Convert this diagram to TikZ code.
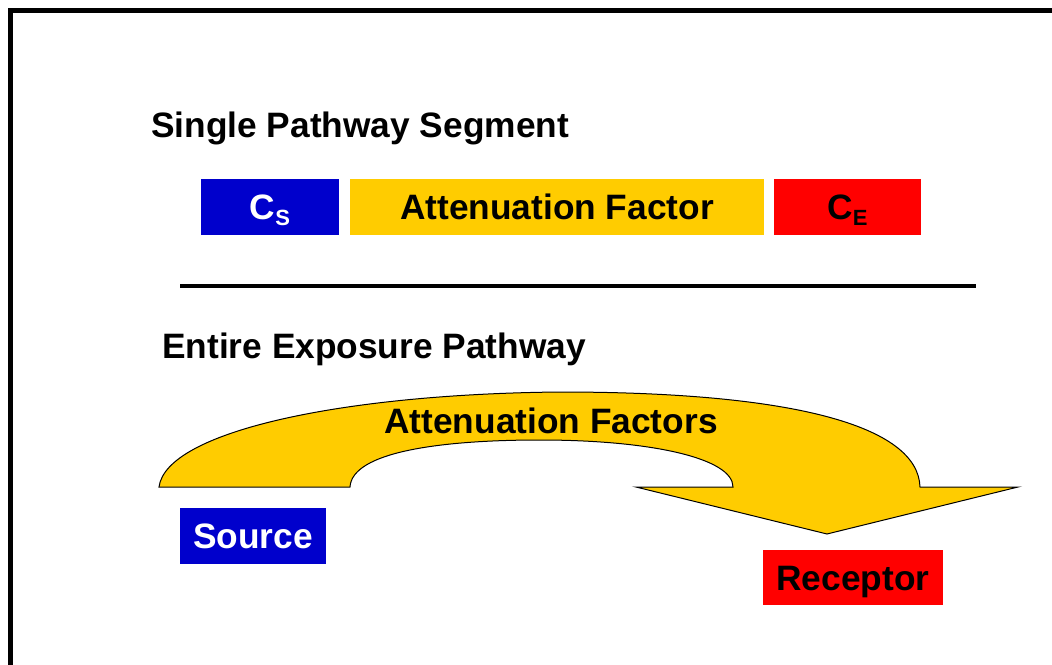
\documentclass[tikz,border=0pt]{standalone}
\usepackage{fontspec}
\setmainfont{Liberation Sans}
\definecolor{pathblue}{HTML}{0000CC}
\definecolor{pathyellow}{HTML}{FFCC00}
\definecolor{pathred}{HTML}{FF0000}
\begin{document}
\begin{tikzpicture}[x=1pt,y=-1pt,
  bigtext/.style={font=\fontsize{35.3}{42}\selectfont\bfseries, inner sep=0pt},
  box/.style={bigtext, minimum height=56pt, text height=25pt, text depth=0pt}]
\useasboundingbox (0,0) rectangle (1052,664);
\fill[white] (0,0) rectangle (1052,664);

% outer frame (runs off the right and bottom edges)
\draw[line width=4.5pt] (1060,10.3) -- (10.3,10.3) -- (10.3,672);

% single pathway segment
\node[bigtext, anchor=base west] (seghead) at (151,137) {Single Pathway Segment};
\node[box, fill=pathblue, text=white, minimum width=138pt] (cs) at (270,207)
  {C\raisebox{-6pt}{\fontsize{22}{22}\selectfont S}};
\node[box, fill=pathyellow, minimum width=414pt] (af) at (557,207) {Attenuation Factor};
\node[box, fill=pathred, minimum width=147pt] (ce) at (847.5,207)
  {C\raisebox{-6pt}{\fontsize{22}{22}\selectfont E}};

% divider
\coordinate (divl) at (180,286);
\coordinate (divr) at (976,286);
\draw[line width=4pt] (divl) -- (divr);

% entire exposure pathway
\node[bigtext, anchor=base west] (pathhead) at (162,358) {Entire Exposure Pathway};

% curved arrow
\draw[fill=pathyellow, line width=1pt, line join=miter]
  (159,487) .. controls (166,432) and (340,394) .. (560,392)
  .. controls (790,392) and (918,425) .. (920,487)
  -- (1018,487) -- (827,534) -- (636,487) -- (733,487)
  .. controls (733,458) and (650,440) .. (540,440)
  .. controls (440,440) and (352,452) .. (350,487)
  -- cycle;
\node[bigtext, anchor=base] (afs) at (551,433) {Attenuation Factors};

\node[box, fill=pathblue, text=white, minimum width=146pt] (src) at (253,536) {Source};
\node[box, fill=pathred, minimum width=180pt, minimum height=55pt] (rec) at (853,577.5) {Receptor};
\end{tikzpicture}
\end{document}
